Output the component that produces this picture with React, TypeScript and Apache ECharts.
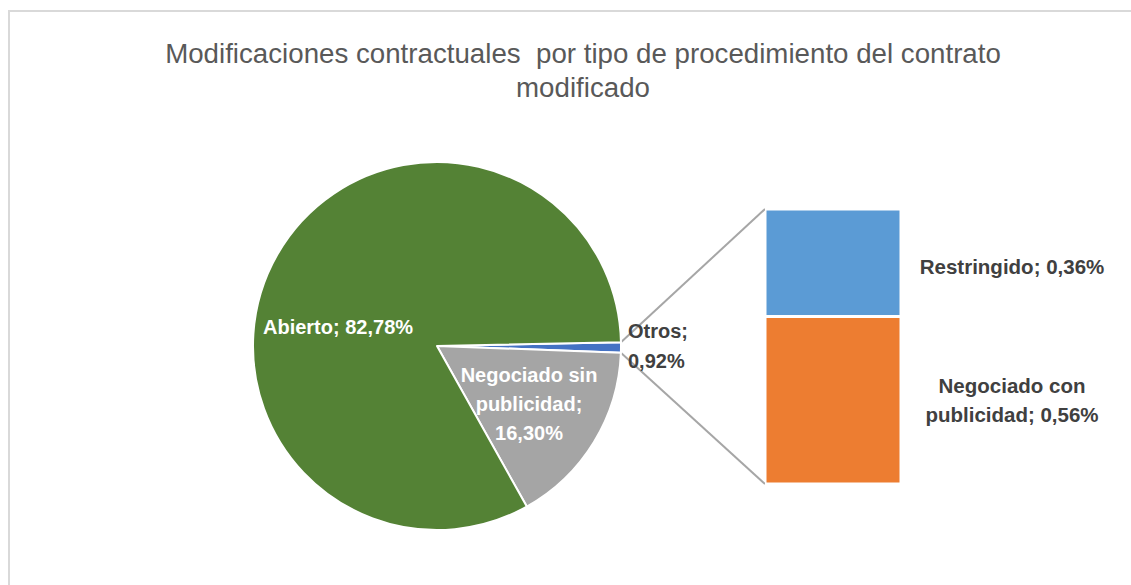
import React, { useEffect, useRef } from "react";
import * as echarts from "echarts";

const titleText = "Modificaciones contractuales  por tipo de procedimiento del contrato\nmodificado";

// Main pie
const pieNames = ["Otros", "Negociado sin publicidad", "Abierto"];
const pieValues = [0.92, 16.3, 82.78];
const pieLabelText = ["Otros;\n0,92%", "Negociado sin\npublicidad;\n16,30%", "Abierto; 82,78%"];
const pieColors = ["#4472c4", "#a5a5a5", "#548235"];

// Secondary stacked bar (breakdown of "Otros")
const barCategories = ["Otros"];
const barNames = ["Negociado con publicidad", "Restringido"];
const barValues = [[0.56], [0.36]];
const barLabelText = ["Negociado con\npublicidad; 0,56%", "Restringido; 0,36%"];
const barColors = ["#ed7d31", "#5b9bd5"];

export default function App() {
  const ref = useRef<HTMLDivElement>(null);
  useEffect(() => {
    if (!ref.current) return;
    const chart = echarts.init(ref.current, null, { renderer: "svg" });
    const font = "'Liberation Sans', Arial, sans-serif";
    const cx = 437;
    const cy = 346;
    const r = 184;
    const startAngle = 1.2;
    const total = pieValues.reduce((a, b) => a + b, 0);
    const a0 = (startAngle * Math.PI) / 180;
    const a1 = ((startAngle - (360 * pieValues[0]) / total) * Math.PI) / 180;
    const gridLeft = 765;
    const gridTop = 209;
    const gridW = 136;
    const gridH = 275;
    const p0 = [cx + r * Math.cos(a0), cy - r * Math.sin(a0)];
    const p1 = [cx + r * Math.cos(a1), cy - r * Math.sin(a1)];

    const pieLabelPos = [
      { x: 628, y: 346, align: "left" },
      { x: 529, y: 404, align: "center" },
      { x: 263, y: 327, align: "left" },
    ];

    chart.setOption({
      animation: false,
      title: {
        text: titleText,
        left: 578,
        top: 31,
        textAlign: "center",
        textStyle: {
          fontFamily: font,
          fontSize: 27.7,
          fontWeight: "normal",
          color: "#595959",
          lineHeight: 34,
        },
      },
      graphic: [
        {
          type: "rect",
          z: -10,
          shape: { x: 8, y: 10, width: 1123, height: 2 },
          style: { fill: "#d9d9d9" },
        },
        {
          type: "rect",
          z: -10,
          shape: { x: 8, y: 10, width: 2, height: 575 },
          style: { fill: "#d9d9d9" },
        },
        {
          type: "line",
          z: 0,
          shape: { x1: p0[0], y1: p0[1], x2: gridLeft, y2: gridTop },
          style: { stroke: "#a6a6a6", lineWidth: 2 },
        },
        {
          type: "line",
          z: 0,
          shape: { x1: p1[0], y1: p1[1], x2: gridLeft, y2: gridTop + gridH },
          style: { stroke: "#a6a6a6", lineWidth: 2 },
        },
      ],
      grid: { left: gridLeft, top: gridTop, width: gridW, height: gridH },
      xAxis: { type: "category", data: barCategories, show: false },
      yAxis: { type: "value", min: 0, max: pieValues[0], show: false },
      series: [
        {
          type: "pie",
          center: [cx, cy],
          radius: r,
          startAngle,
          clockwise: true,
          z: 3,
          itemStyle: { borderColor: "#ffffff", borderWidth: 2 },
          label: {
            show: true,
            position: "inside",
            fontFamily: font,
            fontSize: 20,
            fontWeight: "bold",
            color: "#ffffff",
            lineHeight: 29,
            formatter: (p: any) => pieLabelText[p.dataIndex],
          },
          labelLine: { show: false },
          labelLayout: (params: any) => {
            const pos = pieLabelPos[params.dataIndex];
            return { x: pos.x, y: pos.y, align: pos.align, verticalAlign: "middle" };
          },
          data: pieNames.map((n, i) => ({
            name: n,
            value: pieValues[i],
            itemStyle: { color: pieColors[i] },
            label: i === 0 ? { color: "#404040", lineHeight: 30 } : undefined,
          })),
        },
        ...barNames.map((n, i) => ({
          type: "bar",
          name: n,
          stack: "otros",
          barWidth: "100%",
          data: barValues[i],
          itemStyle: { color: barColors[i], borderColor: "#ffffff", borderWidth: 1.5 },
          label: {
            show: true,
            position: [247, i === 1 ? "53%" : "50%"],
            align: "center",
            verticalAlign: "middle",
            fontFamily: font,
            fontSize: 20.5,
            fontWeight: "bold",
            color: "#404040",
            lineHeight: 29,
            formatter: () => barLabelText[i],
          },
        })),
      ],
    });
    return () => chart.dispose();
  }, []);
  return (
    <div
      ref={ref}
      style={{ position: "fixed", left: 0, top: 0, width: 1131, height: 585, background: "#ffffff", overflow: "hidden" }}
    />
  );
}
